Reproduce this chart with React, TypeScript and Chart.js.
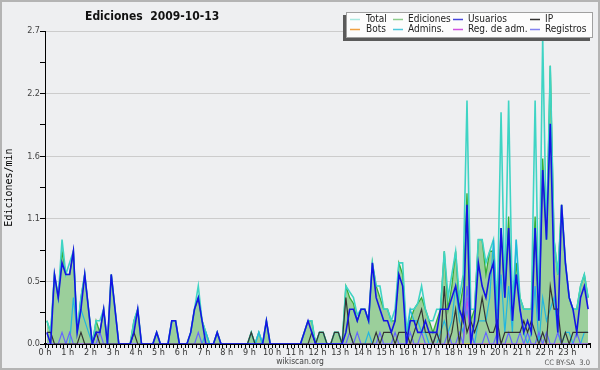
import React, { useEffect, useRef } from 'react';
import { Chart, registerables } from 'chart.js';

Chart.register(...registerables);

// 10-minute bins, 6 per hour, 24 hours (values are actions per minute)
const HOURS = ['0 h','1 h','2 h','3 h','4 h','5 h','6 h','7 h','8 h','9 h','10 h','11 h','12 h','13 h','14 h','15 h','16 h','17 h','18 h','19 h','20 h','21 h','22 h','23 h'];

const Y_TICKS = [0, 0.27, 0.54, 0.81, 1.08, 1.35, 1.62, 1.89, 2.16, 2.43, 2.7];
const Y_TICK_LABELS = ['0.0', '', '0.5', '', '1.1', '', '1.6', '', '2.2', '', '2.7'];

const TOTAL = [
  0.2,0.1,0.6,0.4,0.9,0.6,
  0.7,0.8,0.1,0.4,0.6,0.3,
  0,0.2,0.2,0.3,0,0.6,
  0.3,0,0,0,0,0.2,
  0.3,0,0,0,0,0.1,
  0,0,0,0.2,0.2,0,
  0,0,0.1,0.3,0.5,0.2,
  0.1,0,0,0.1,0,0,
  0,0,0,0,0,0,
  0.1,0,0.1,0,0.2,0,
  0,0,0,0,0,0,
  0,0,0.1,0.2,0.2,0,
  0.1,0.1,0,0,0.1,0.1,
  0,0.5,0.45,0.4,0.25,0.3,
  0.3,0.2,0.7,0.5,0.5,0.3,
  0.3,0.2,0.3,0.7,0.7,0.1,
  0.3,0.3,0.35,0.5,0.3,0.2,
  0.2,0.3,0.3,0.8,0.4,0.6,
  0.8,0.4,0.6,2.1,0.3,0.3,
  0.9,0.9,0.7,0.8,0.9,0.3,
  2.0,0.4,2.1,0.3,0.9,0.4,
  0.3,0.3,0.3,2.1,0.2,2.65,
  0.9,2.4,0.9,0.6,1.2,0.7,
  0.4,0.3,0.3,0.5,0.6,0.4,
];

const EDICIONES = [
  0.2,0.1,0.6,0.4,0.8,0.6,
  0.6,0.8,0.1,0.4,0.6,0.3,
  0,0.2,0.1,0.3,0,0.6,
  0.3,0,0,0,0,0.2,
  0.3,0,0,0,0,0.1,
  0,0,0,0.2,0.2,0,
  0,0,0.1,0.3,0.4,0.2,
  0.1,0,0,0.1,0,0,
  0,0,0,0,0,0,
  0.1,0,0.1,0,0.2,0,
  0,0,0,0,0,0,
  0,0,0.1,0.2,0.2,0,
  0.1,0.1,0,0,0.1,0.1,
  0,0.5,0.4,0.35,0.2,0.3,
  0.3,0.2,0.7,0.5,0.4,0.3,
  0.3,0.2,0.2,0.7,0.6,0.1,
  0.2,0.3,0.35,0.4,0.3,0.2,
  0.1,0.2,0.3,0.8,0.3,0.5,
  0.8,0.3,0.5,1.3,0.2,0.3,
  0.9,0.9,0.6,0.8,0.8,0.2,
  1.0,0.4,1.1,0.3,0.7,0.4,
  0.3,0.3,0.3,1.1,0.2,1.6,
  0.9,2.4,0.9,0.6,1.2,0.7,
  0.4,0.3,0.3,0.5,0.6,0.4,
];

const USUARIOS = [
  0.1,0,0.6,0.4,0.7,0.6,
  0.6,0.8,0.1,0.3,0.6,0.3,
  0,0.1,0.1,0.3,0,0.6,
  0.3,0,0,0,0,0.1,
  0.3,0,0,0,0,0.1,
  0,0,0,0.2,0.2,0,
  0,0,0.1,0.3,0.4,0.2,
  0,0,0,0.1,0,0,
  0,0,0,0,0,0,
  0,0,0,0,0.2,0,
  0,0,0,0,0,0,
  0,0,0.1,0.2,0.1,0,
  0,0,0,0,0,0,
  0,0.1,0.3,0.3,0.2,0.3,
  0.3,0.2,0.7,0.4,0.3,0.2,
  0.2,0.1,0.2,0.6,0.5,0,
  0.2,0.2,0.1,0.1,0.2,0.1,
  0.1,0.1,0.3,0.3,0.3,0.4,
  0.5,0.3,0.2,1.2,0,0.2,
  0.7,0.5,0.4,0.6,0.7,0,
  1.0,0.4,1.0,0.2,0.6,0.3,
  0.1,0.2,0.1,1.0,0.2,1.5,
  0.9,1.9,0.6,0.1,1.2,0.7,
  0.4,0.3,0.1,0.4,0.5,0.3,
];

const IP = [
  0.1,0.1,0,0,0,0,
  0,0,0,0.1,0,0,
  0,0.1,0,0,0,0,
  0,0,0,0,0,0.1,
  0,0,0,0,0,0,
  0,0,0,0,0,0,
  0,0,0,0,0,0,
  0,0,0,0,0,0,
  0,0,0,0,0,0,
  0.1,0,0,0,0,0,
  0,0,0,0,0,0,
  0,0,0,0,0.1,0,
  0.1,0.1,0,0,0.1,0.1,
  0,0.4,0.1,0,0,0,
  0,0,0,0.1,0,0.1,
  0.1,0.1,0,0.1,0.1,0.1,
  0,0.1,0.2,0.3,0.1,0.1,
  0,0.1,0,0.5,0,0.1,
  0.3,0,0.3,0.1,0.2,0.1,
  0.2,0.4,0.2,0.1,0.1,0.2,
  0,0.1,0.1,0.1,0.1,0.1,
  0.2,0.1,0.2,0.1,0,0.1,
  0,0.5,0.3,0.3,0,0.1,
  0,0.1,0.1,0.1,0.1,0.1,
];

const BOTS = [
  0,0,0,0,0,0, 0,0,0,0,0,0, 0,0,0,0,0,0, 0,0,0,0,0,0,
  0,0,0,0,0,0, 0,0,0,0,0,0, 0,0,0,0,0,0, 0,0,0,0,0,0,
  0,0,0,0,0,0, 0,0,0,0,0,0, 0,0,0,0,0,0, 0,0,0,0,0,0,
  0,0,0,0,0,0, 0,0,0,0,0,0, 0,0,0,0,0,0, 0,0,0,0,0,0,
  0,0,0,0,0,0, 0,0,0,0,0,0, 0,0,0,0,0,0, 0,0,0,0,0,0,
  0,0,0,0,0,0, 0,0,0,0,0,0, 0,0,0,0,0,0, 0,0,0,0,0,0,
];

const ADMINS = [
  0,0,0,0,0,0,
  0,0.4,0.1,0.3,0.2,0.1,
  0,0,0,0,0,0,
  0,0,0,0,0,0,
  0,0,0,0,0,0,
  0,0,0,0,0,0,
  0,0,0,0,0,0,
  0.1,0,0,0,0,0,
  0,0,0,0,0,0,
  0,0,0.1,0,0,0,
  0,0,0,0,0,0,
  0,0,0,0,0,0,
  0,0,0,0,0,0,
  0,0,0,0,0,0,
  0,0.1,0,0,0,0,
  0,0,0,0,0,0,
  0.3,0.2,0.2,0.1,0.1,0,
  0,0,0.1,0.2,0.1,0.2,
  0.5,0.2,0.1,0.3,0.1,0,
  0.2,0.2,0.2,0.4,0.9,0.2,
  0.6,0.1,0.5,0.1,0.9,0.3,
  0.1,0,0.1,0.5,0,0.4,
  0.2,0.3,0.4,0.1,0,0.1,
  0.1,0,0,0,0.1,0.1,
];

const REG_ADM = [
  0,0,0,0,0,0, 0,0,0,0,0,0, 0,0,0,0,0,0, 0,0,0,0,0,0,
  0,0,0,0,0,0, 0,0,0,0,0,0, 0,0,0,0,0,0, 0,0,0,0,0,0,
  0,0,0,0,0,0, 0,0,0,0,0,0, 0,0,0,0,0,0, 0,0,0,0,0,0,
  0,0,0,0,0,0, 0,0,0,0,0,0, 0,0,0,0,0,0, 0,0,0,0,0,0,
  0,0,0,0,0,0, 0,0,0,0,0,0, 0,0,0,0.4,0,0, 0,0,0,0,0,0,
  0,0,0,0,0,0, 0,0,0,0,0,0, 0,0,0,0,0,0, 0,0,0,0,0,0,
];

const REGISTROS = [
  0,0,0,0,0.1,0,
  0.1,0,0,0,0,0,
  0,0,0.1,0,0,0,
  0,0,0,0,0,0,
  0,0,0,0,0,0,
  0,0,0,0,0,0,
  0,0,0,0,0.1,0,
  0,0,0,0,0,0,
  0,0,0,0,0,0,
  0,0,0,0,0,0,
  0,0,0,0,0,0,
  0,0,0,0,0,0,
  0,0,0,0,0,0,
  0,0,0.1,0,0.1,0,
  0,0,0,0,0.1,0,
  0,0,0.1,0,0,0,
  0.1,0,0,0.1,0,0,
  0,0.1,0,0,0.1,0,
  0,0.1,0,0.5,0.1,0,
  0,0,0.1,0,0,0.1,
  0,0,0.1,0,0,0.1,
  0,0.1,0,0,0.1,0,
  0.1,0,0,0.1,0,0,
  0,0,0.1,0,0,0,
];

const BINS_PER_HOUR = 6;
const N_BINS = 144;

const LEGEND = [
  { label: 'Total', color: '#a8e8e0' },
  { label: 'Ediciones', color: '#8ccc8c' },
  { label: 'Usuarios', color: '#4646dc' },
  { label: 'IP', color: '#333333' },
  { label: 'Bots', color: '#f0a040' },
  { label: 'Admins.', color: '#4cc8dc' },
  { label: 'Reg. de adm.', color: '#d050e0' },
  { label: 'Registros', color: '#8282f0' },
];

const toPoints = (arr: number[]) => arr.map((v, i) => ({ x: i + 0.5, y: v }));

const COND = '"DejaVu Sans Condensed", "Liberation Sans", sans-serif';

const bgPlugin = {
  id: 'bg',
  beforeDraw(chart: any) {
    const { ctx, width, height } = chart;
    ctx.save();
    ctx.fillStyle = '#eeeff1';
    ctx.fillRect(0, 0, width, height);
    ctx.strokeStyle = '#b4b4b4';
    ctx.lineWidth = 2;
    ctx.strokeRect(1, 1, width - 2, height - 2);
    ctx.restore();
  },
};

const overlayPlugin = {
  id: 'overlay',
  afterDraw(chart: any) {
    const { ctx } = chart;
    ctx.save();
    // title
    ctx.fillStyle = '#111';
    ctx.font = 'bold 12px "DejaVu Sans Condensed", "DejaVu Sans", sans-serif';
    ctx.textAlign = 'left';
    ctx.textBaseline = 'middle';
    ctx.fillText('Ediciones  2009-10-13', 85, 17);
    // footer
    ctx.fillStyle = '#444';
    ctx.font = '8.5px ' + COND;
    ctx.textAlign = 'center';
    ctx.fillText('wikiscan.org', 300, 362);
    ctx.font = '7.5px ' + COND;
    ctx.textAlign = 'right';
    ctx.fillStyle = '#555';
    ctx.fillText('CC BY-SA  3.0', 590, 363);
    // legend box
    const lx = 346, ly = 12, lw = 247, lh = 26;
    ctx.fillStyle = '#5a5a5a';
    ctx.fillRect(lx - 3, ly + 3, lw, lh);
    ctx.fillStyle = '#fcfcfc';
    ctx.fillRect(lx, ly, lw, lh);
    ctx.strokeStyle = '#a0a0a0';
    ctx.lineWidth = 1;
    ctx.strokeRect(lx + 0.5, ly + 0.5, lw - 1, lh - 1);
    const cols = [[350, 366], [393, 408], [453, 468], [530, 545]];
    const rows = [19.5, 29.5];
    ctx.font = '10px ' + COND;
    ctx.textAlign = 'left';
    ctx.textBaseline = 'middle';
    LEGEND.forEach((item, k) => {
      const c = cols[k % 4];
      const y = rows[Math.floor(k / 4)];
      ctx.strokeStyle = item.color;
      ctx.lineWidth = 1.5;
      ctx.beginPath();
      ctx.moveTo(c[0], y);
      ctx.lineTo(c[0] + 10, y);
      ctx.stroke();
      ctx.fillStyle = '#222';
      ctx.fillText(item.label, c[1], y);
    });
    ctx.restore();
  },
};

export default function App() {
  const ref = useRef<HTMLCanvasElement | null>(null);

  useEffect(() => {
    const canvas = ref.current;
    if (!canvas) return;
    const line = (label: string, data: number[], color: string, width: number, order: number) => ({
      label,
      data: toPoints(data),
      borderColor: color,
      backgroundColor: color,
      borderWidth: width,
      pointRadius: 0,
      tension: 0,
      fill: false,
      order,
    });
    const chart = new Chart(canvas, {
      type: 'line',
      data: {
        datasets: [
          line('Usuarios', USUARIOS, '#1414e4', 1.6, 0),
          line('IP', IP, '#333333', 1.2, 1),
          line('Registros', REGISTROS, '#6666ff', 1.2, 2),
          line('Reg. de adm.', REG_ADM, '#c848dc', 1.2, 3),
          line('Admins.', ADMINS, '#22b6e0', 1.2, 4),
          line('Bots', BOTS, '#f0a030', 1.2, 5),
          line('Total', TOTAL, '#3ed4c4', 1.6, 6),
          {
            label: 'Ediciones',
            data: toPoints(EDICIONES),
            borderColor: '#36ad36',
            backgroundColor: '#9bcf9b',
            borderWidth: 1.3,
            pointRadius: 0,
            tension: 0,
            fill: 'origin',
            order: 7,
          },
        ] as any,
      },
      options: {
        responsive: false,
        animation: false,
        devicePixelRatio: 1,
        layout: { padding: { left: 0, right: 10, top: 31, bottom: 0 } },
        plugins: {
          legend: { display: false },
          tooltip: { enabled: false },
          title: { display: false },
        },
        scales: {
          x: {
            type: 'linear',
            min: 0,
            max: N_BINS,
            z: 1,
            afterBuildTicks: (s: any) => {
              s.ticks = Array.from({ length: N_BINS + 1 }, (_, k) => ({ value: k }));
            },
            afterFit: (s: any) => { s.height = 26; },
            ticks: {
              autoSkip: false,
              maxRotation: 0,
              minRotation: 0,
              padding: -1,
              color: '#333',
              font: { family: COND, size: 9 },
              callback: (v: any) => {
                const n = Number(v);
                return n % BINS_PER_HOUR === 0 && n < N_BINS ? HOURS[n / BINS_PER_HOUR] : '';
              },
            },
            grid: { drawOnChartArea: false, tickLength: 4, tickColor: '#000', lineWidth: 1 },
            border: { color: '#000', width: 2 },
          },
          y: {
            type: 'linear',
            min: 0,
            max: 2.7,
            afterBuildTicks: (s: any) => {
              s.ticks = Y_TICKS.map((v) => ({ value: v }));
            },
            afterFit: (s: any) => { s.width = 45; },
            ticks: {
              padding: 0,
              color: '#444',
              font: { family: COND, size: 9 },
              callback: (_v: any, i: number) => Y_TICK_LABELS[i],
            },
            grid: {
              color: (c: any) => (c.index % 2 === 0 ? '#cccccc' : 'rgba(0,0,0,0)'),
              tickColor: '#000',
              tickLength: 5,
              lineWidth: 1,
            },
            border: { color: '#000', width: 1 },
            title: {
              display: true,
              text: 'Ediciones/min',
              color: '#000',
              font: { family: '"DejaVu Sans Mono", monospace', size: 10 },
              padding: { top: 3, bottom: 0 },
            },
          },
        },
      } as any,
      plugins: [bgPlugin, overlayPlugin],
    });
    return () => chart.destroy();
  }, []);

  return (
    <div style={{ position: 'fixed', left: 0, top: 0, width: 600, height: 370 }}>
      <canvas ref={ref} width={600} height={370} style={{ display: 'block', width: 600, height: 370 }} />
    </div>
  );
}
